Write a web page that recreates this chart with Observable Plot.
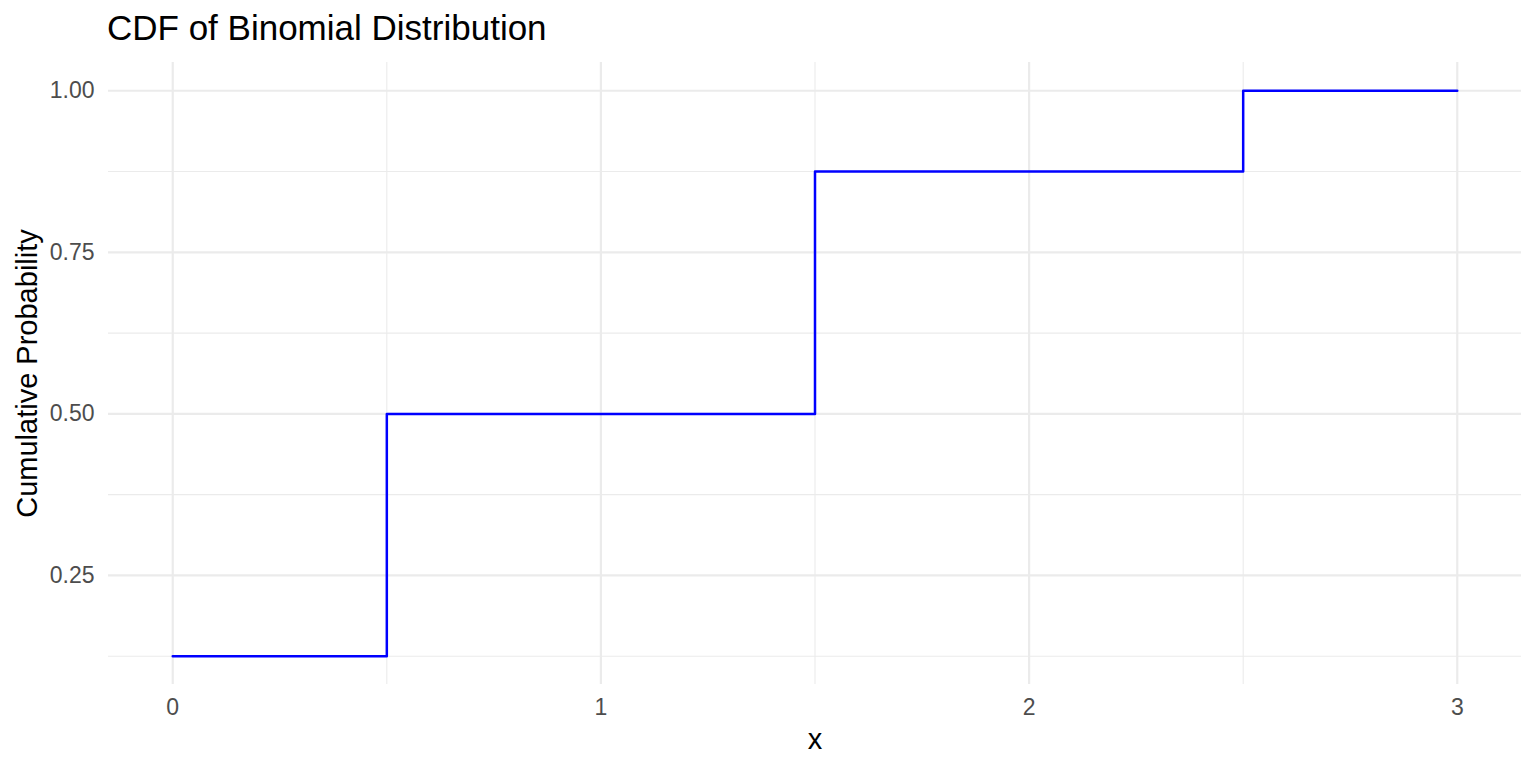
<!DOCTYPE html>
<html>
<head>
<meta charset="utf-8">
<script src="https://cdn.jsdelivr.net/npm/d3@7"></script>
<script src="https://cdn.jsdelivr.net/npm/@observablehq/plot@0.6"></script>
<style>
  html, body { margin: 0; padding: 0; background: #fff; }
  #wrap { position: relative; width: 1536px; height: 768px; font-family: "Liberation Sans", Arial, sans-serif; }
  #title { position: absolute; left: 107px; top: 8px; font-size: 35px; color: #000; white-space: nowrap; }
  svg { display: block; }
</style>
</head>
<body>
<div id="wrap">
  <div id="title">CDF of Binomial Distribution</div>
</div>
<script>
// Data
const xValues = [0, 1, 2, 3];
const cdfValues = [0.125, 0.5, 0.875, 1.0];
const xMajorTicks = [0, 1, 2, 3];
const xMinorTicks = [0.5, 1.5, 2.5];
const yMajorTicks = [0.25, 0.5, 0.75, 1.0];
const yMinorTicks = [0.125, 0.375, 0.625, 0.875];
const xLabel = "x";
const yLabel = "Cumulative Probability";

const data = xValues.map((x, i) => ({x, y: cdfValues[i]}));

const grid = "#ebebeb";
const chart = Plot.plot({
  width: 1536,
  height: 768,
  marginLeft: 108,
  marginRight: 15,
  marginTop: 62,
  marginBottom: 84,
  style: {fontFamily: "Liberation Sans, Arial, sans-serif", background: "#fff"},
  x: {domain: [-0.15, 3.15]},
  y: {domain: [0.08125, 1.04375]},
  marks: [
    Plot.ruleX(xMinorTicks, {stroke: grid, strokeWidth: 1.1}),
    Plot.ruleY(yMinorTicks, {stroke: grid, strokeWidth: 1.1}),
    Plot.ruleX(xMajorTicks, {stroke: grid, strokeWidth: 2.2}),
    Plot.ruleY(yMajorTicks, {stroke: grid, strokeWidth: 2.2}),
    Plot.axisX({ticks: xMajorTicks, tickSize: 0, tickPadding: 14, fontSize: 23, fill: "#4d4d4d", label: null, tickFormat: d3.format("d")}),
    Plot.axisY({ticks: yMajorTicks, tickSize: 0, tickPadding: 14, fontSize: 23, fill: "#4d4d4d", label: null, tickFormat: d3.format(".2f")}),
    Plot.line(data, {x: "x", y: "y", curve: "step", stroke: "#0000ff", strokeWidth: 2.5}),
    Plot.text([xLabel], {frameAnchor: "bottom", text: d => d, dy: 55, lineAnchor: "middle", textAnchor: "middle", fontSize: 29, fill: "#000"}),
    Plot.text([yLabel], {frameAnchor: "left", text: d => d, dx: -81, rotate: -90, lineAnchor: "middle", textAnchor: "middle", fontSize: 29, fill: "#000"})
  ]
});
document.getElementById("wrap").appendChild(chart);
</script>
</body>
</html>
